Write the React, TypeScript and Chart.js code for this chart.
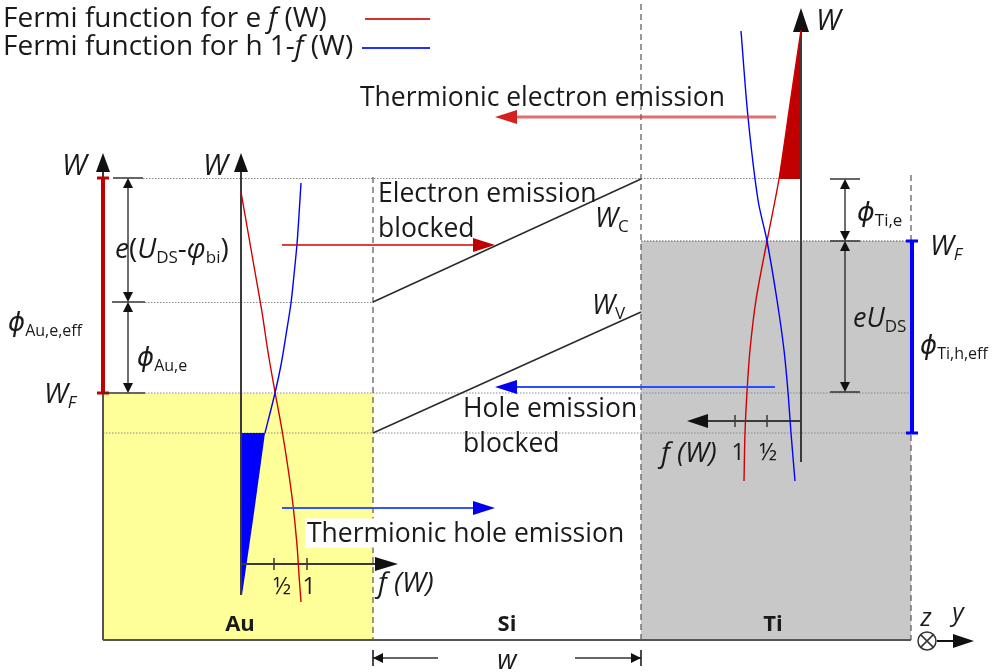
import { useEffect, useRef } from "react";
import { Chart, registerables } from "chart.js";

Chart.register(...registerables);

type Pt = [number, number];

// ---------- Diagram data (x: 0..995 to the right, y: 0..672 downwards) ----------
const X_MAX = 995;
const Y_MAX = 672;

// regions
const auRegion: Pt[] = [[103, 640], [103, 393], [373, 393], [373, 640]];
const tiRegion: Pt[] = [[641, 640], [641, 241], [911, 241], [911, 640]];

// energy levels (dotted)
const dottedLevels: Pt[][] = [
  [[143, 178.5], [801, 178.5]],
  [[145, 302.5], [373, 302.5]],
  [[145, 393], [911, 393]],
  [[103, 433], [911, 433]],
];
const tiFermiLevel: Pt[] = [[641, 241], [911, 241]];

// material boundaries (dashed)
const boundaries: Pt[][] = [
  [[373, 177], [373, 640]],
  [[641, 4], [641, 640]],
  [[911, 175], [911, 640]],
];

const baseLine: Pt[] = [[103, 640], [911, 640]];
const auLeftEdge: Pt[] = [[103, 393], [103, 640]];

// Si bands
const conductionBand: Pt[] = [[373, 302], [641, 179]];
const valenceBand: Pt[] = [[373, 433], [641, 312]];

// Fermi functions
const auElectron: Pt[] = [[241, 192], [248, 232], [255, 272], [262, 312], [268, 352], [275, 392], [282, 430], [288, 468], [293, 505], [297, 545], [299, 575], [301, 602]];
const auHole: Pt[] = [[301, 183], [299, 215], [297, 244], [294, 275], [291, 303], [286, 335], [281, 365], [275, 393], [265, 433]];
const auHoleTail: Pt[] = [[265, 433], [253, 520], [242, 595]];
const tiElectron: Pt[] = [[801, 30], [790, 104], [779, 179], [767, 241], [756, 300], [750, 350], [747, 392], [745, 433], [744, 481]];
const tiHole: Pt[] = [[741, 31], [748, 117], [758, 200], [767, 241], [777, 300], [784, 350], [788, 392], [791, 433], [795, 481]];

// axes of the Fermi-function plots
const auWAxis: Pt[] = [[241, 595], [241, 170]];
const auWAxisTip: Pt = [241, 153];
const leftWAxis: Pt[] = [[103, 178], [103, 170]];
const leftWAxisTip: Pt = [103, 153];
const auFAxis: Pt[] = [[241, 564], [377, 564]];
const auFAxisTip: Pt = [398, 564];
const auFTicks = [274, 307];
const tiWAxis: Pt[] = [[801, 462], [801, 30]];
const tiWAxisTip: Pt = [801, 8];
const tiFAxis: Pt[] = [[801, 421], [707, 421]];
const tiFAxisTip: Pt = [687, 421];
const tiFTicks = [735, 767];

// emission arrows [start, tip]
const electronBlocked: Pt[] = [[282, 245], [495, 245]];
const thermionicElectron: Pt[] = [[776, 117], [495, 117]];
const holeBlocked: Pt[] = [[775, 387], [495, 387]];
const thermionicHole: Pt[] = [[282, 508], [495, 508]];

// barriers
const auBarrierBar: Pt[] = [[103, 178], [103, 393]];
const tiBarrierBar: Pt[] = [[912, 241], [912, 433]];

// dimension arrows
const auDimX = 128;
const auDimLevels = [178, 302, 393];
const auDimTicks: Pt[][] = [[[113, 178], [143, 178]], [[112, 302], [145, 302]], [[103, 393], [145, 393]]];
const tiDimX = 845;
const tiDimLevels = [179, 241, 392];
const tiDimTicks: Pt[][] = [[[830, 179], [860, 179]], [[830, 241], [860, 241]], [[830, 392], [860, 392]]];

// width of Si
const widthDimY = 658;
const widthDimLeft: Pt[] = [[373, 658], [438, 658]];
const widthDimRight: Pt[] = [[575, 658], [641, 658]];

// coordinate system
const zAxisCenter: Pt = [927, 641];
const yAxisArrow: Pt[] = [[937, 641], [955, 641]];
const yAxisTip: Pt = [974, 641];

// legend sample lines
const legendElectron: Pt[] = [[365, 19], [430, 19]];
const legendHole: Pt[] = [[362, 48], [430, 48]];

// ---------- Text ----------
type Run = [string, string?];
interface Label { runs: Run[]; x: number; y: number; size?: number; align?: "left" | "center"; bg?: string }

const LABELS: Label[] = [
  { runs: [["Fermi function for e "], ["f", "i"], [" (W)"]], x: 3, y: 17, size: 28 },
  { runs: [["Fermi function for h 1-"], ["f", "i"], [" (W)"]], x: 3, y: 45, size: 28 },
  { runs: [["Thermionic electron emission"]], x: 360, y: 97 },
  { runs: [["Electron emission"]], x: 378, y: 193 },
  { runs: [["blocked"]], x: 378, y: 228 },
  { runs: [["W", "i"], ["C", "s"]], x: 595, y: 218, size: 27 },
  { runs: [["W", "i"], ["V", "s"]], x: 592, y: 305, size: 27 },
  { runs: [["Hole emission"]], x: 463, y: 408 },
  { runs: [["blocked"]], x: 463, y: 443 },
  { runs: [["Thermionic hole emission"]], x: 307, y: 533, bg: "#ffffff" },
  { runs: [["W", "i"]], x: 62, y: 165, size: 29 },
  { runs: [["W", "i"]], x: 203, y: 165, size: 29 },
  { runs: [["e", "i"], ["("], ["U", "i"], ["DS", "s"], ["-"], ["φ", "i"], ["bi", "s"], [")"]], x: 115, y: 248, size: 28 },
  { runs: [["ϕ", "i"], ["Au,e,eff", "s"]], x: 8, y: 322, size: 26 },
  { runs: [["ϕ", "i"], ["Au,e", "s"]], x: 137, y: 357, size: 26 },
  { runs: [["W", "i"], ["F", "is"]], x: 44, y: 393, size: 28 },
  { runs: [["f (W)", "i"]], x: 378, y: 582, size: 28 },
  { runs: [["½"]], x: 282, y: 586, size: 23, align: "center" },
  { runs: [["1"]], x: 309, y: 586, size: 23, align: "center" },
  { runs: [["f (W)", "i"]], x: 661, y: 452, size: 28 },
  { runs: [["1"]], x: 738, y: 452, size: 23, align: "center" },
  { runs: [["½"]], x: 768, y: 452, size: 23, align: "center" },
  { runs: [["W", "i"]], x: 816, y: 20, size: 29 },
  { runs: [["ϕ", "i"], ["Ti,e", "s"]], x: 857, y: 212, size: 27 },
  { runs: [["W", "i"], ["F", "is"]], x: 930, y: 245, size: 28 },
  { runs: [["e", "i"], ["U", "i"], ["DS", "s"]], x: 853, y: 318, size: 27 },
  { runs: [["ϕ", "i"], ["Ti,h,eff", "s"]], x: 920, y: 345, size: 26 },
  { runs: [["Au", "b"]], x: 240, y: 624, size: 22, align: "center" },
  { runs: [["Si", "b"]], x: 507, y: 624, size: 22, align: "center" },
  { runs: [["Ti", "b"]], x: 773, y: 624, size: 22, align: "center" },
  { runs: [["z", "i"]], x: 926, y: 617, size: 25, align: "center" },
  { runs: [["y", "i"]], x: 958, y: 612, size: 25, align: "center" },
  { runs: [["w", "i"]], x: 507, y: 660, size: 27, align: "center" },
];

// ---------- Styles ----------
const FONT = "'Open Sans', 'DejaVu Sans', sans-serif";
const BASE_SIZE = 26.5;
const TEXT_COLOR = "#1a1a1a";
const AXIS = "#3a3a3a";
const DOT = "#8a8a8a";
const DASH = "#555555";
const BLUE = "#0000ff";
const YELLOW = "#ffff99";
const GRAY = "#c8c8c8";

type Dir = "u" | "d" | "l" | "r";
function headPts(tip: Pt, dir: Dir, len: number, half: number): Pt[] {
  const [tx, ty] = tip;
  if (dir === "r") return [[tx - len, ty - half], [tx - len, ty + half], [tx, ty]];
  if (dir === "l") return [[tx, ty], [tx + len, ty - half], [tx + len, ty + half]];
  if (dir === "u") return [[tx - half, ty + len], [tx, ty], [tx + half, ty + len]];
  return [[tx - half, ty - len], [tx, ty], [tx + half, ty - len]];
}

const toData = (pts: Pt[]) => pts.map(([x, y]) => ({ x, y }));

function lineDs(pts: Pt[], color: string, width: number, dash: number[] = [], tension = 0) {
  return {
    data: toData(pts),
    borderColor: color,
    borderWidth: width,
    borderDash: dash,
    fill: false,
    pointRadius: 0,
    tension,
  };
}
function polyDs(pts: Pt[], color: string) {
  return {
    data: toData(pts),
    borderColor: "rgba(0,0,0,0)",
    borderWidth: 1,
    backgroundColor: color,
    fill: "shape",
    pointRadius: 0,
    tension: 0,
  };
}

function buildDatasets() {
  const ds: any[] = [];
  // regions
  ds.push(polyDs(auRegion, YELLOW));
  ds.push(polyDs(tiRegion, GRAY));
  // levels
  for (const l of dottedLevels) ds.push(lineDs(l, DOT, 1, [1.5, 1.5]));
  ds.push(lineDs(tiFermiLevel, "#555555", 1, [1.5, 1.5]));
  for (const b of boundaries) ds.push(lineDs(b, DASH, 1.2, [6, 4]));
  ds.push(lineDs(baseLine, "#555555", 2));
  ds.push(lineDs(auLeftEdge, "#555555", 2));
  // bands
  ds.push(lineDs(conductionBand, "#2a2a2a", 1.5));
  ds.push(lineDs(valenceBand, "#2a2a2a", 1.5));
  // fills under Fermi functions
  const blueFill: Pt[] = [[241, 433], ...auHoleTail.slice().reverse()];
  ds.push(polyDs(blueFill, BLUE));
  const redTop = tiElectron.filter((p) => p[1] <= 179).reverse();
  ds.push(polyDs([...redTop, [tiWAxis[0][0], 179]], "#c00000"));
  // axes
  ds.push(lineDs(auWAxis, AXIS, 2));
  ds.push(polyDs(headPts(auWAxisTip, "u", 19, 7), "#111"));
  ds.push(lineDs(leftWAxis, AXIS, 2));
  ds.push(polyDs(headPts(leftWAxisTip, "u", 19, 7), "#111"));
  ds.push(lineDs(auFAxis, AXIS, 2));
  ds.push(polyDs(headPts(auFAxisTip, "r", 23, 7), "#111"));
  for (const t of auFTicks) ds.push(lineDs([[t, 558], [t, 570]], AXIS, 1.5));
  ds.push(lineDs(tiWAxis, AXIS, 2));
  ds.push(polyDs(headPts(tiWAxisTip, "u", 24, 8), "#111"));
  ds.push(lineDs(tiFAxis, AXIS, 2));
  ds.push(polyDs(headPts(tiFAxisTip, "l", 21, 7), "#111"));
  for (const t of tiFTicks) ds.push(lineDs([[t, 415], [t, 427]], AXIS, 1.5));
  // Fermi function curves
  ds.push(lineDs(auElectron, "#d00000", 1.4, [], 0.3));
  ds.push(lineDs(auHole, BLUE, 1.4, [], 0.3));
  ds.push(lineDs(tiElectron, "#d00000", 1.4, [], 0.3));
  ds.push(lineDs(tiHole, BLUE, 1.4, [], 0.3));
  // emission arrows
  const arrow = (a: Pt[], lineColor: string, headColor: string, w: number) => {
    const [s, tip] = a;
    const dir: Dir = tip[0] > s[0] ? "r" : "l";
    const end: Pt = [dir === "r" ? tip[0] - 20 : tip[0] + 20, tip[1]];
    ds.push(lineDs([s, end], lineColor, w));
    ds.push(polyDs(headPts(tip, dir, 22, 7), headColor));
  };
  arrow(electronBlocked, "#d00000", "#c00000", 1.5);
  arrow(thermionicElectron, "rgba(214,50,50,0.7)", "#d42020", 3);
  arrow(holeBlocked, "#2a4cff", "#0000ee", 2);
  arrow(thermionicHole, "#3355ff", "#0000ee", 2);
  // barrier bars
  ds.push(lineDs(auBarrierBar, "#c00000", 4));
  for (const y of [auBarrierBar[0][1], auBarrierBar[1][1]]) ds.push(lineDs([[97, y], [109, y]], "#c00000", 3));
  ds.push(lineDs(tiBarrierBar, BLUE, 4));
  for (const y of [tiBarrierBar[0][1], tiBarrierBar[1][1]]) ds.push(lineDs([[906, y], [918, y]], BLUE, 3));
  // dimension arrows
  const dims = (x: number, levels: number[], ticks: Pt[][]) => {
    for (const t of ticks) ds.push(lineDs(t, "#333", 1.5));
    for (let i = 0; i < levels.length - 1; i++) {
      const a = levels[i], b = levels[i + 1];
      ds.push(lineDs([[x, a + 8], [x, b - 8]], "#222", 1.3));
      ds.push(polyDs(headPts([x, a], "u", 10, 5), "#111"));
      ds.push(polyDs(headPts([x, b], "d", 10, 5), "#111"));
    }
  };
  dims(auDimX, auDimLevels, auDimTicks);
  dims(tiDimX, tiDimLevels, tiDimTicks);
  // Si width
  ds.push(lineDs(widthDimLeft, "#333", 1.5));
  ds.push(polyDs(headPts(widthDimLeft[0], "l", 10, 5), "#111"));
  ds.push(lineDs([[widthDimLeft[0][0], widthDimY - 8], [widthDimLeft[0][0], widthDimY + 8]], "#111", 1.5));
  ds.push(lineDs(widthDimRight, "#333", 1.5));
  ds.push(polyDs(headPts(widthDimRight[1], "r", 10, 5), "#111"));
  ds.push(lineDs([[widthDimRight[1][0], widthDimY - 8], [widthDimRight[1][0], widthDimY + 8]], "#111", 1.5));
  // coordinate system
  ds.push({ data: toData([zAxisCenter]), showLine: false, pointRadius: 9, pointStyle: "circle", pointBackgroundColor: "#fff", pointBorderColor: "#333", pointBorderWidth: 1.5 });
  ds.push({ data: toData([zAxisCenter]), showLine: false, pointRadius: 9, pointStyle: "crossRot", pointBorderColor: "#333", pointBorderWidth: 1.5 });
  ds.push(lineDs(yAxisArrow, "#111", 2));
  ds.push(polyDs(headPts(yAxisTip, "r", 21, 7), "#111"));
  // legend
  ds.push(lineDs(legendElectron, "#d83030", 2));
  ds.push(lineDs(legendHole, "#2030ff", 2));
  return ds.map((d, i) => ({ ...d, order: -i }));
}

const labelPlugin = {
  id: "diagramLabels",
  afterDatasetsDraw(chart: any) {
    const { ctx, scales } = chart;
    const xs = scales.x, ys = scales.y;
    ctx.save();
    ctx.textBaseline = "alphabetic";
    for (const lab of LABELS) {
      const size = lab.size ?? BASE_SIZE;
      const runs = lab.runs.map(([t, f = ""]) => {
        const sub = f.includes("s");
        const fs = sub ? Math.round(size * 0.62) : size;
        const font = `${f.includes("i") ? "italic " : ""}${f.includes("b") ? "bold " : ""}${fs}px ${FONT}`;
        ctx.font = font;
        return { t, font, sub, w: ctx.measureText(t).width };
      });
      const total = runs.reduce((a: number, r: any) => a + r.w, 0);
      const px = xs.getPixelForValue(lab.x);
      const py = ys.getPixelForValue(lab.y);
      let cx = lab.align === "center" ? px - total / 2 : px;
      const base = py + size * 0.34;
      if (lab.bg) {
        ctx.fillStyle = lab.bg;
        ctx.fillRect(cx - 2, py - size * 0.55, total + 4, size * 1.1);
      }
      ctx.fillStyle = TEXT_COLOR;
      for (const r of runs) {
        ctx.font = r.font;
        ctx.fillText(r.t, cx, base + (r.sub ? size * 0.18 : 0));
        cx += r.w;
      }
    }
    ctx.restore();
  },
};

export default function App() {
  const ref = useRef<HTMLCanvasElement>(null);
  useEffect(() => {
    document.body.style.margin = "0";
    const chart = new Chart(ref.current as HTMLCanvasElement, {
      type: "line",
      data: { datasets: buildDatasets() },
      options: {
        animation: false,
        responsive: false,
        maintainAspectRatio: false,
        devicePixelRatio: 1,
        events: [],
        layout: { padding: 0, autoPadding: false },
        scales: {
          x: { type: "linear", min: 0, max: X_MAX, display: false },
          y: { type: "linear", min: 0, max: Y_MAX, reverse: true, display: false },
        },
        plugins: { legend: { display: false }, tooltip: { enabled: false } },
      },
      plugins: [labelPlugin],
    } as any);
    return () => chart.destroy();
  }, []);
  return (
    <div style={{ width: X_MAX, height: Y_MAX, background: "#fff" }}>
      <canvas ref={ref} width={X_MAX} height={Y_MAX} style={{ display: "block" }} />
    </div>
  );
}
